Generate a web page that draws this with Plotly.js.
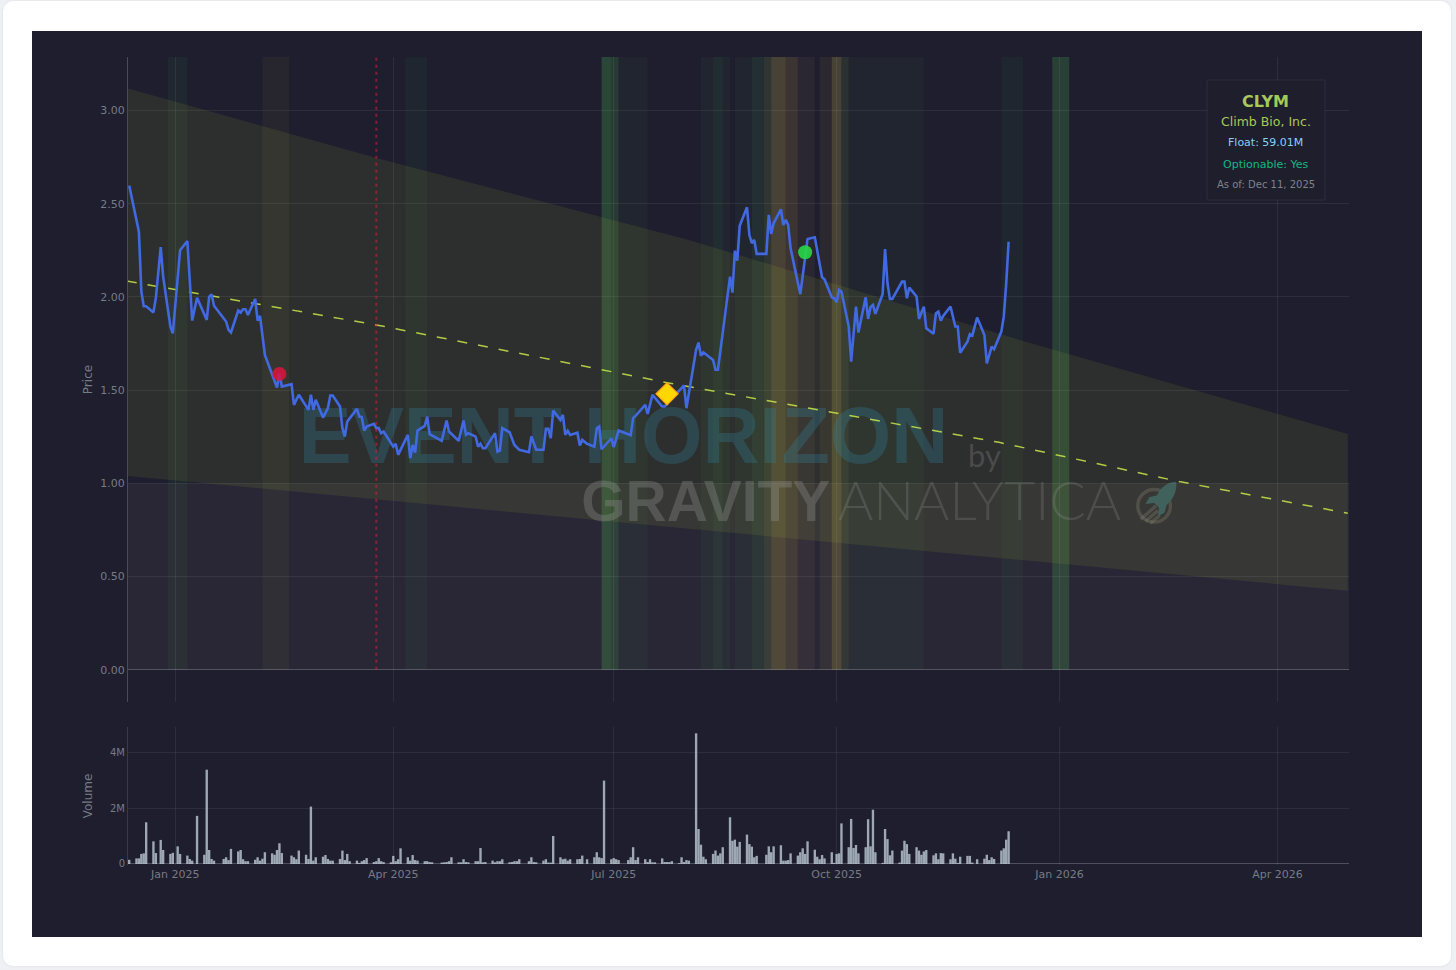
<!DOCTYPE html>
<html><head><meta charset="utf-8">
<script src="https://cdn.plot.ly/plotly-3.0.1.min.js"></script>
<style>
html,body{margin:0;padding:0;background:#eef0f4;width:1456px;height:970px;overflow:hidden}
#card{position:absolute;left:3px;top:1px;width:1448px;height:965px;background:#fff;border-radius:10px;box-shadow:0 0 3px rgba(0,0,0,.08)}
#chart{position:absolute;left:32px;top:31px;width:1390px;height:906px}
</style></head><body>
<div id="card"></div><div id="chart"></div>
<script>
const priceDates=["2024-12-13","2024-12-17","2024-12-18","2024-12-19","2024-12-20","2024-12-23","2024-12-24","2024-12-26","2024-12-27","2024-12-30","2024-12-31","2025-01-03","2025-01-06","2025-01-08","2025-01-10","2025-01-14","2025-01-15","2025-01-16","2025-01-17","2025-01-22","2025-01-23","2025-01-24","2025-01-27","2025-01-28","2025-01-29","2025-01-30","2025-01-31","2025-02-03","2025-02-04","2025-02-05","2025-02-07","2025-02-12","2025-02-13","2025-02-14","2025-02-18","2025-02-19","2025-02-21","2025-02-25","2025-02-26","2025-02-27","2025-02-28","2025-03-03","2025-03-05","2025-03-06","2025-03-07","2025-03-10","2025-03-11","2025-03-12","2025-03-13","2025-03-17","2025-03-18","2025-03-19","2025-03-20","2025-03-21","2025-03-24","2025-03-25","2025-03-26","2025-03-27","2025-03-28","2025-04-01","2025-04-02","2025-04-03","2025-04-07","2025-04-08","2025-04-09","2025-04-10","2025-04-11","2025-04-14","2025-04-15","2025-04-16","2025-04-21","2025-04-23","2025-04-24","2025-04-28","2025-04-30","2025-05-01","2025-05-02","2025-05-05","2025-05-06","2025-05-07","2025-05-08","2025-05-09","2025-05-13","2025-05-14","2025-05-15","2025-05-16","2025-05-19","2025-05-21","2025-05-23","2025-05-27","2025-05-28","2025-05-30","2025-06-02","2025-06-03","2025-06-04","2025-06-05","2025-06-06","2025-06-09","2025-06-10","2025-06-11","2025-06-12","2025-06-13","2025-06-16","2025-06-17","2025-06-18","2025-06-20","2025-06-23","2025-06-24","2025-06-25","2025-06-26","2025-06-30","2025-07-01","2025-07-03","2025-07-08","2025-07-09","2025-07-10","2025-07-14","2025-07-15","2025-07-17","2025-07-21","2025-07-22","2025-07-30","2025-07-31","2025-08-04","2025-08-05","2025-08-06","2025-08-07","2025-08-11","2025-08-12","2025-08-13","2025-08-18","2025-08-19","2025-08-20","2025-08-21","2025-08-22","2025-08-25","2025-08-26","2025-08-27","2025-08-28","2025-08-29","2025-09-02","2025-09-03","2025-09-04","2025-09-05","2025-09-08","2025-09-09","2025-09-10","2025-09-11","2025-09-12","2025-09-16","2025-09-19","2025-09-22","2025-09-25","2025-09-26","2025-09-29","2025-09-30","2025-10-01","2025-10-02","2025-10-03","2025-10-06","2025-10-07","2025-10-09","2025-10-10","2025-10-13","2025-10-14","2025-10-15","2025-10-16","2025-10-17","2025-10-20","2025-10-21","2025-10-22","2025-10-23","2025-10-24","2025-10-28","2025-10-29","2025-10-30","2025-10-31","2025-11-03","2025-11-04","2025-11-06","2025-11-07","2025-11-10","2025-11-11","2025-11-12","2025-11-13","2025-11-14","2025-11-17","2025-11-19","2025-11-20","2025-11-21","2025-11-24","2025-11-25","2025-11-26","2025-11-28","2025-12-01","2025-12-02","2025-12-04","2025-12-05","2025-12-08","2025-12-09","2025-12-10","2025-12-11"];
const priceValues=[2.597,2.35,2.03,1.95,1.95,1.917,1.995,2.267,2.11,1.84,1.805,2.25,2.30,1.873,1.996,1.877,2.00,2.014,1.953,1.868,1.823,1.809,1.927,1.916,1.934,1.934,1.903,1.989,1.873,1.898,1.689,1.514,1.59,1.519,1.532,1.421,1.475,1.394,1.475,1.394,1.448,1.353,1.403,1.471,1.471,1.412,1.296,1.251,1.331,1.40,1.358,1.355,1.283,1.305,1.319,1.296,1.296,1.269,1.278,1.197,1.212,1.153,1.26,1.135,1.206,1.165,1.283,1.308,1.358,1.264,1.228,1.337,1.278,1.228,1.337,1.26,1.269,1.251,1.197,1.212,1.188,1.188,1.269,1.17,1.176,1.296,1.274,1.206,1.18,1.167,1.251,1.18,1.18,1.292,1.292,1.242,1.39,1.34,1.367,1.26,1.282,1.26,1.272,1.203,1.233,1.212,1.197,1.296,1.305,1.183,1.242,1.194,1.283,1.258,1.35,1.362,1.421,1.373,1.475,1.412,1.412,1.525,1.403,1.716,1.755,1.685,1.703,1.662,1.609,1.609,2.109,2.023,2.248,2.195,2.381,2.481,2.332,2.288,2.306,2.231,2.231,2.44,2.338,2.395,2.47,2.386,2.413,2.386,2.261,2.014,2.311,2.32,2.105,2.094,1.998,1.993,1.971,2.038,2.029,1.841,1.653,1.948,1.809,1.998,1.882,1.945,1.957,1.909,2.016,2.257,2.073,1.989,1.989,2.082,2.082,1.993,2.05,2.002,1.882,1.948,1.832,1.802,1.912,1.921,1.873,1.898,1.948,1.841,1.841,1.701,1.76,1.80,1.793,1.889,1.796,1.644,1.734,1.72,1.814,1.894,2.07,2.296];

const volumeDates=["2024-12-13","2024-12-16","2024-12-17","2024-12-18","2024-12-19","2024-12-20","2024-12-23","2024-12-24","2024-12-26","2024-12-27","2024-12-30","2024-12-31","2025-01-02","2025-01-03","2025-01-06","2025-01-07","2025-01-08","2025-01-10","2025-01-13","2025-01-14","2025-01-15","2025-01-16","2025-01-17","2025-01-21","2025-01-22","2025-01-23","2025-01-24","2025-01-27","2025-01-28","2025-01-29","2025-01-30","2025-01-31","2025-02-03","2025-02-04","2025-02-05","2025-02-06","2025-02-07","2025-02-10","2025-02-11","2025-02-12","2025-02-13","2025-02-14","2025-02-18","2025-02-19","2025-02-20","2025-02-21","2025-02-24","2025-02-25","2025-02-26","2025-02-27","2025-02-28","2025-03-03","2025-03-04","2025-03-05","2025-03-06","2025-03-07","2025-03-10","2025-03-11","2025-03-12","2025-03-13","2025-03-14","2025-03-17","2025-03-18","2025-03-19","2025-03-20","2025-03-21","2025-03-24","2025-03-25","2025-03-26","2025-03-27","2025-03-28","2025-03-31","2025-04-01","2025-04-02","2025-04-03","2025-04-04","2025-04-07","2025-04-08","2025-04-09","2025-04-10","2025-04-11","2025-04-14","2025-04-15","2025-04-16","2025-04-17","2025-04-21","2025-04-22","2025-04-23","2025-04-24","2025-04-25","2025-04-28","2025-04-29","2025-04-30","2025-05-01","2025-05-02","2025-05-05","2025-05-06","2025-05-07","2025-05-08","2025-05-09","2025-05-12","2025-05-13","2025-05-14","2025-05-15","2025-05-16","2025-05-19","2025-05-20","2025-05-21","2025-05-22","2025-05-23","2025-05-27","2025-05-28","2025-05-29","2025-05-30","2025-06-02","2025-06-03","2025-06-04","2025-06-05","2025-06-06","2025-06-09","2025-06-10","2025-06-11","2025-06-12","2025-06-13","2025-06-16","2025-06-17","2025-06-18","2025-06-20","2025-06-23","2025-06-24","2025-06-25","2025-06-26","2025-06-27","2025-06-30","2025-07-01","2025-07-02","2025-07-03","2025-07-07","2025-07-08","2025-07-09","2025-07-10","2025-07-11","2025-07-14","2025-07-15","2025-07-16","2025-07-17","2025-07-18","2025-07-21","2025-07-22","2025-07-23","2025-07-24","2025-07-25","2025-07-28","2025-07-29","2025-07-30","2025-07-31","2025-08-01","2025-08-04","2025-08-05","2025-08-06","2025-08-07","2025-08-08","2025-08-11","2025-08-12","2025-08-13","2025-08-14","2025-08-15","2025-08-18","2025-08-19","2025-08-20","2025-08-21","2025-08-22","2025-08-25","2025-08-26","2025-08-27","2025-08-28","2025-08-29","2025-09-02","2025-09-03","2025-09-04","2025-09-05","2025-09-08","2025-09-09","2025-09-10","2025-09-11","2025-09-12","2025-09-15","2025-09-16","2025-09-17","2025-09-18","2025-09-19","2025-09-22","2025-09-23","2025-09-24","2025-09-25","2025-09-26","2025-09-29","2025-09-30","2025-10-01","2025-10-02","2025-10-03","2025-10-06","2025-10-07","2025-10-08","2025-10-09","2025-10-10","2025-10-13","2025-10-14","2025-10-15","2025-10-16","2025-10-17","2025-10-20","2025-10-21","2025-10-22","2025-10-23","2025-10-24","2025-10-27","2025-10-28","2025-10-29","2025-10-30","2025-10-31","2025-11-03","2025-11-04","2025-11-05","2025-11-06","2025-11-07","2025-11-10","2025-11-11","2025-11-12","2025-11-13","2025-11-14","2025-11-17","2025-11-18","2025-11-19","2025-11-20","2025-11-21","2025-11-24","2025-11-25","2025-11-26","2025-11-28","2025-12-01","2025-12-02","2025-12-03","2025-12-04","2025-12-05","2025-12-08","2025-12-09","2025-12-10","2025-12-11"];
const volumeMillions=[.15,.2,.2,.36,.38,1.49,.81,.39,.86,.5,.36,.4,.63,.36,.3,.18,.12,1.72,.33,3.37,.5,.18,.12,.18,.24,.14,.54,.45,.5,.17,.1,.1,.15,.24,.12,.19,.42,.38,.33,.5,.74,.39,.3,.24,.17,.48,.33,.18,2.05,.12,.24,.26,.32,.18,.12,.12,.18,.48,.14,.36,.1,.12,.04,.1,.14,.21,.07,.1,.21,.1,.07,.06,.29,.1,.17,.56,.24,.12,.32,.14,.12,.1,.1,.07,.06,.05,.06,.07,.1,.24,.06,.06,.17,.07,.06,.1,.1,.57,.06,.07,.12,.06,.1,.1,.17,.06,.07,.1,.1,.17,.1,.24,.07,.06,.12,.17,.05,.05,1.0,.24,.17,.19,.12,.17,.17,.18,.3,.17,.24,.42,.24,.21,2.98,.17,.21,.17,.14,.14,.24,.6,.14,.24,.17,.07,.17,.06,.06,.2,.07,.07,.07,.1,.03,.24,.07,.14,.12,4.67,1.25,.69,.26,.17,.36,.48,.3,.38,.6,1.67,.83,.87,.62,.79,1.05,.71,.62,.24,.29,.33,.63,.42,.63,.67,.12,.12,.14,.38,.3,.42,.56,.36,.81,.51,.26,.17,.32,.2,.42,.04,.36,.38,1.45,.6,1.61,.57,.68,.38,.6,1.6,.63,1.94,.42,.04,1.25,.89,.31,.48,.05,.48,.83,.71,.36,.6,.48,.33,.45,.5,.31,.38,.17,.39,.38,.17,.38,.19,.04,.26,.29,.29,.05,.17,.19,.33,.14,.24,.18,.48,.56,.87,1.17];

const trendDates=["2024-12-12","2025-03-25","2025-07-23","2025-12-07","2026-02-20","2026-04-30"];
const trendMid=[2.085,1.85,1.54,1.22,1.008,0.84];
const upperDates=["2024-12-12","2025-03-25","2025-08-01","2025-12-14","2026-04-30"];
const upperValues=[3.12,2.745,2.306,1.775,1.265];
const lowerDates=["2024-12-12","2026-04-30"];
const lowerValues=[1.04,0.424];

const bandStarts=["2024-12-29","2025-02-06","2025-04-06","2025-06-26","2025-06-30","2025-07-03","2025-08-06","2025-08-11","2025-08-15","2025-08-20","2025-08-27","2025-09-01","2025-09-04","2025-09-10","2025-09-15","2025-09-24","2025-09-29","2025-10-03","2025-10-06","2025-12-08","2025-12-29"];
const bandEnds=["2025-01-06","2025-02-17","2025-04-15","2025-06-30","2025-07-03","2025-07-15","2025-08-11","2025-08-15","2025-08-18","2025-08-27","2025-09-01","2025-09-04","2025-09-10","2025-09-15","2025-09-22","2025-09-29","2025-10-03","2025-10-06","2025-11-06","2025-12-17","2026-01-05"];
const bandColors=["rgba(76,175,80,.07)","rgba(225,200,70,.05)","rgba(76,175,80,.06)","rgba(76,175,80,.28)","rgba(76,175,80,.2)","rgba(76,175,80,.05)","rgba(76,175,80,.05)","rgba(76,175,80,.11)","rgba(76,175,80,.05)","rgba(76,175,80,.05)","rgba(76,175,80,.12)","rgba(150,170,70,.17)","rgba(205,185,75,.24)","rgba(230,180,80,.15)","rgba(240,190,130,.06)","rgba(220,180,90,.07)","rgba(205,185,75,.24)","rgba(130,170,80,.13)","rgba(76,175,80,.05)","rgba(76,175,80,.06)","rgba(76,175,80,.24)"];

const eventDates={red:"2025-02-13",gold:"2025-07-23",green:"2025-09-18",vline:"2025-03-25"};
const eventPrices={red:1.587,gold:1.48,green:2.24};
const rangeX=["2024-12-12 12:00","2026-04-30 12:00"];
const tickFontCol="#777b85";
const font="DejaVu Sans, sans-serif";

function txt(x,y,t,size,color,fam,w){return {x:[x],y:[y],mode:"text",text:[t],textposition:"middle center",textfont:{size:size,color:color,family:fam,weight:w||400},hoverinfo:"skip",showlegend:false,cliponaxis:false};}

const traces=[
 {x:upperDates,y:upperValues,mode:"lines",line:{width:0},hoverinfo:"skip",showlegend:false},
 {x:lowerDates,y:lowerValues,mode:"lines",line:{width:0},fill:"tonexty",fillcolor:"rgba(175,200,55,.105)",hoverinfo:"skip",showlegend:false},
 txt("2025-07-05",1.217,"EVENT HORIZON",79,"rgba(50,125,150,.32)","Liberation Sans",700),
 txt("2025-12-01",1.13,"by",31,"rgba(150,150,150,.28)","Lato"),
 txt("2025-08-08",0.875,"GRAVITY",57,"rgba(150,150,150,.32)","Liberation Sans",700),
 txt("2025-11-29",0.875,"ANALYTICA",54,"rgba(150,150,150,.24)","Lato",300),
 {x:trendDates,y:trendMid,mode:"lines",line:{color:"rgba(200,232,70,.85)",width:1.5,dash:"10px,11px"},hoverinfo:"skip",showlegend:false},
 {x:priceDates,y:priceValues,mode:"lines",line:{color:"#4169e1",width:2.6},showlegend:false},
 {x:[eventDates.red],y:[eventPrices.red],mode:"markers",marker:{size:14,color:"rgba(220,20,60,.85)"},showlegend:false},
 {x:[eventDates.gold],y:[eventPrices.gold],mode:"markers",marker:{size:17,symbol:"diamond",color:"#ffd700",line:{color:"#ff9f1a",width:1.2}},showlegend:false},
 {x:[eventDates.green],y:[eventPrices.green],mode:"markers",marker:{size:14,color:"rgba(40,215,70,.9)"},showlegend:false},
 {x:volumeDates,y:volumeMillions.map(v=>v*1e6),type:"bar",yaxis:"y2",marker:{color:"rgba(195,208,218,.78)"},showlegend:false}
];

const shapes=bandStarts.map((s,i)=>({type:"rect",xref:"x",yref:"y",x0:s,x1:bandEnds[i],y0:0,y1:3.287,fillcolor:bandColors[i],line:{width:0},layer:"below"}));
shapes.push({type:"rect",xref:"paper",yref:"y",x0:0,x1:1,y0:0,y1:1,fillcolor:"rgba(255,225,190,.05)",line:{width:0},layer:"below"});
shapes.push({type:"line",xref:"x",yref:"y",x0:eventDates.vline,x1:eventDates.vline,y0:0,y1:3.287,line:{color:"rgba(220,30,60,.55)",width:2,dash:"3px,4px"},layer:"above"});
shapes.push({type:"rect",xref:"paper",yref:"paper",x0:.8837,x1:.9803,y0:.823,y1:.9715,fillcolor:"rgba(30,30,46,.92)",line:{color:"rgba(255,255,255,.07)",width:1},layer:"above"});

function note(py,t,size,color,w){return {xref:"paper",yref:"paper",x:.932,y:(865-py)/808,text:t,showarrow:false,xanchor:"center",yanchor:"middle",font:{size:size,color:color,family:font,weight:w||400}};}
const annotations=[
 note(101,"CLYM",16,"#a7c957",700),
 note(122,"Climb Bio, Inc.",12.5,"#a7c957"),
 note(143,"Float: 59.01M",11,"#87cefa"),
 note(164,"Optionable: Yes",11,"#10b981"),
 note(184.5,"As of: Dec 11, 2025",10,"#808288")
];

const rocket="data:image/svg+xml;utf8,"+encodeURIComponent('<svg xmlns="http://www.w3.org/2000/svg" viewBox="0 0 50 50"><circle cx="22" cy="29" r="17" fill="none" stroke="#8a8a85" stroke-opacity=".28" stroke-width="3.5"/><path d="M8 43L24 29M13 45L26 34M18 47L28 39" stroke="#8a8a85" stroke-opacity=".28" stroke-width="3.5"/><path d="M45 4C36 4 29 10 25 18L17 20L13 27L22 26L27 31L26 40L33 36L35 28C42 23 46 13 45 4Z" fill="#2a4f5c"/></svg>');

const grid="rgba(255,255,255,.065)";
const layout={
 width:1390,height:906,margin:{l:96,r:73,t:26,b:72},paper_bgcolor:"#1e1e2e",plot_bgcolor:"#1e1e2e",
 font:{family:font,color:tickFontCol,size:11},showlegend:false,bargap:.02,hovermode:false,
 xaxis:{type:"date",range:rangeX,anchor:"y2",dtick:"M3",tick0:"2025-01-01",tickformat:"%b %Y",gridcolor:grid,gridwidth:1,showline:false,zeroline:false,ticks:"",ticklabelstandoff:1,tickfont:{size:11,color:tickFontCol,family:font}},
 yaxis:{domain:[.2017,1],range:[-0.173,3.287],tickvals:[0,.5,1,1.5,2,2.5,3],tickformat:".2f",gridcolor:grid,showline:true,linecolor:"rgba(255,255,255,.2)",zeroline:true,zerolinecolor:"rgba(255,255,255,.22)",ticks:"",tickfont:{size:11,color:tickFontCol,family:font},title:{text:"Price",font:{size:12,color:tickFontCol,family:font},standoff:5}},
 yaxis2:{domain:[0,.1708],range:[-36000,4.895e6],tickvals:[0,2e6,4e6],ticktext:["0","2M","4M"],gridcolor:grid,showline:true,linecolor:"rgba(255,255,255,.12)",zeroline:true,zerolinecolor:"rgba(255,255,255,.22)",ticks:"",tickfont:{size:10,color:tickFontCol,family:font},title:{text:"Volume",font:{size:12,color:tickFontCol,family:font},standoff:14}},
 shapes:shapes,annotations:annotations,
 images:[{source:rocket,xref:"paper",yref:"paper",x:(1133-128)/1221,y:(865-478)/808,sizex:48/1221,sizey:48/808,sizing:"stretch",xanchor:"left",yanchor:"top",layer:"below",opacity:1}]
};
Plotly.newPlot("chart",traces,layout,{displayModeBar:false,staticPlot:true});
</script></body></html>
